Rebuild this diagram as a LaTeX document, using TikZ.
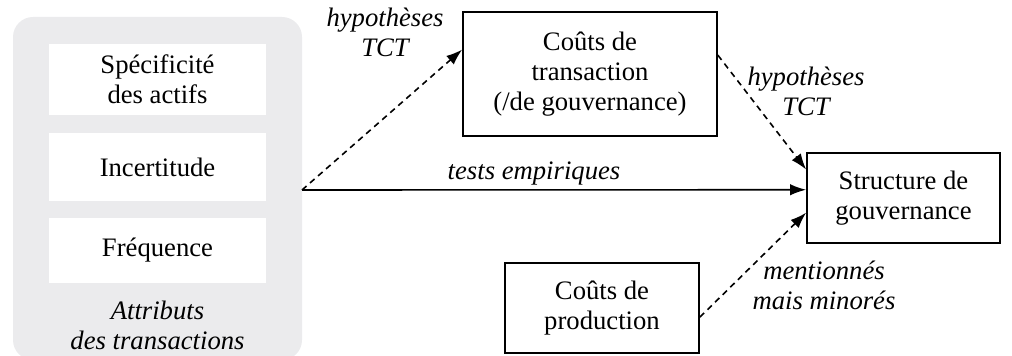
\documentclass[tikz,border=0pt]{standalone}
\usepackage{fontspec}
\setmainfont{Liberation Serif}
\usetikzlibrary{arrows.meta,calc}
\definecolor{panelgray}{RGB}{235,235,237}
\begin{document}
\begin{tikzpicture}[x=0.75pt,y=-0.75pt,
  every node/.style={font=\fontsize{20}{22.5}\selectfont, align=center, inner sep=0pt},
  box/.style={draw, line width=1.3pt, fill=white, minimum width=#1},
  wbox/.style={fill=white, minimum width=162.75pt},
  lab/.style={font=\fontsize{20}{22.5}\selectfont\itshape},
  arr/.style={line width=1.2pt, -{Latex[length=12pt,width=8.5pt]}},
  dsh/.style={arr, dash pattern=on 4.5pt off 3.5pt}]
\useasboundingbox (0,0) rectangle (1012,356);
% grey panel
\node[fill=panelgray, rounded corners=15pt, minimum width=216.75pt, minimum height=257.25pt] (attr) at (157.5,188.5) {};
\node[wbox, minimum height=53.25pt] (spec) at (157.5,79.5) {Spécificité\\des actifs};
\node[wbox, minimum height=51pt] (inc) at (157.5,167) {Incertitude};
\node[wbox, minimum height=48.75pt] (freq) at (157.5,250.5) {Fréquence};
\node[lab] (attrlab) at (157.5,325) {Attributs\\des transactions};
% boxes
\node[box=190.5pt, minimum height=93pt] (tran) at (590,74) {Coûts de\\transaction\\(/de gouvernance)};
\node[box=144.75pt, minimum height=67.5pt] (gov) at (903.5,198) {Structure de\\gouvernance};
\node[box=145.5pt, minimum height=67.5pt] (prod) at (602,308) {Coûts de\\production};
% connectors
\coordinate (src) at (302,190);
\draw[dsh] (src) -- ($(tran.north west)!0.306!(tran.south west)$);
\draw[arr] (src) -- ($(gov.north west)!0.41!(gov.south west)$);
\draw[dsh] ($(tran.north east)!0.35!(tran.south east)$) -- ($(gov.north west)!0.19!(gov.south west)$);
\draw[dsh] ($(prod.north east)!0.6!(prod.south east)$) -- ($(gov.north west)!0.66!(gov.south west)$);
% labels
\node[lab] (l1) at (385,32) {hypothèses\\TCT};
\node[lab] (l2) at (806,91) {hypothèses\\TCT};
\node[lab] (l3) at (534,174) {tests empiriques};
\node[lab] (l4) at (824,285) {mentionnés\\mais minorés};
\end{tikzpicture}
\end{document}
